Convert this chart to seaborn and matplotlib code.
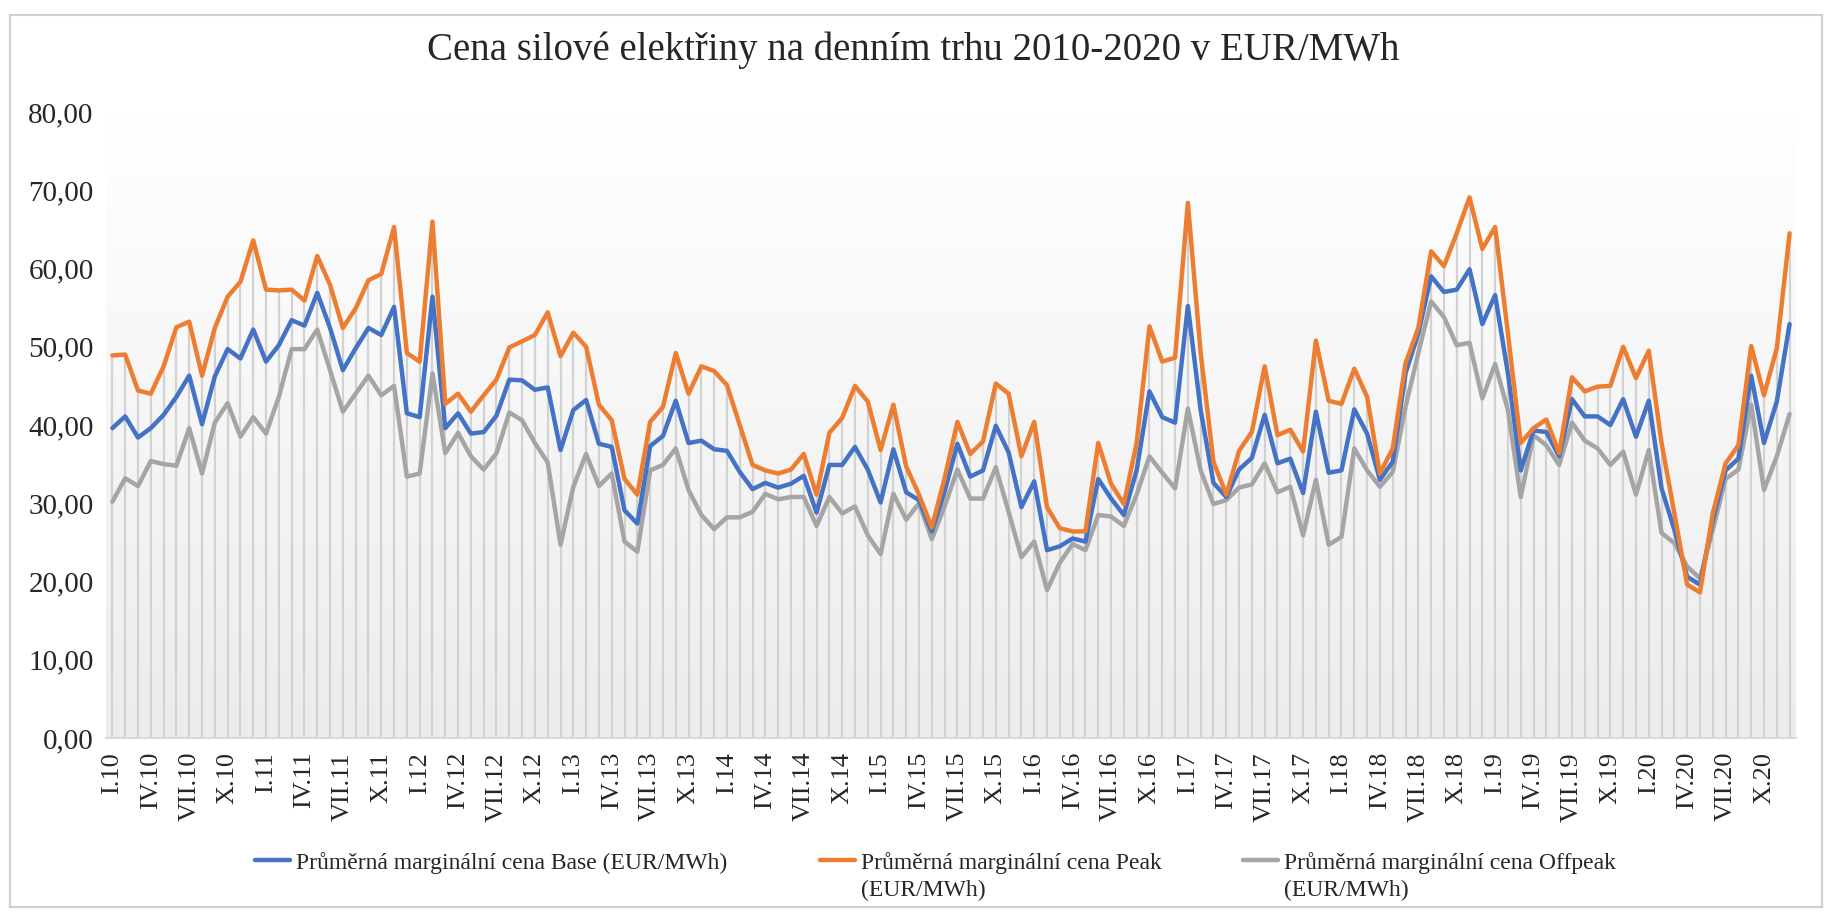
import numpy as np
import pandas as pd
import matplotlib.pyplot as plt
import seaborn as sns
from matplotlib.colors import LinearSegmentedColormap
from matplotlib.patches import Rectangle

# mesice I.10 .. XII.20
roman = ["I", "II", "III", "IV", "V", "VI", "VII", "VIII", "IX", "X", "XI", "XII"]
years = list(range(2010, 2021))
months = [f"{r}.{y % 100:02d}" for y in years for r in roman]

base = [39.6, 41.1, 38.4, 39.6, 41.3, 43.6, 46.3, 40.1, 46.2, 49.7, 48.5, 52.2,
        48.1, 50.2, 53.4, 52.7, 56.9, 52.4, 47.0, 49.8, 52.4, 51.5, 55.1,
        41.5, 41.0, 56.4, 39.6, 41.5, 38.9, 39.1, 41.2, 45.8, 45.7, 44.5, 44.8,
        36.8, 41.9, 43.2, 37.6, 37.2, 29.1, 27.4, 37.3, 38.6, 43.1,
        37.7, 38.0, 36.9, 36.7, 34.0, 31.8, 32.6, 32.0, 32.5, 33.5, 28.8, 34.9,
        34.9, 37.2, 34.3, 30.1, 36.9, 31.4, 30.4, 26.4, 31.5, 37.6,
        33.4, 34.2, 39.9, 36.5, 29.5, 32.8, 24.0, 24.5, 25.5, 25.1, 33.1, 30.6,
        28.5, 34.2, 44.3, 41.0, 40.3, 55.2, 41.9, 32.6, 30.8, 34.3, 35.8,
        41.3, 35.1, 35.7, 31.3, 41.7, 33.9, 34.2, 42.0, 38.9, 33.0, 35.3, 46.6,
        51.7, 59.0, 57.0, 57.3, 59.9, 52.9, 56.6, 46.6,
        34.2, 39.3, 39.1, 36.0, 43.3, 41.1, 41.1, 40.0, 43.3, 38.5, 43.1, 31.9,
        26.6, 20.6, 19.6, 27.9, 34.2, 35.7, 46.3, 37.7, 43.0, 52.9]

peak = [48.9, 49.0, 44.4, 44.0, 47.5, 52.5, 53.2, 46.3, 52.4, 56.4, 58.3, 63.6,
        57.3, 57.2, 57.3, 55.9, 61.6, 57.9, 52.4, 54.9, 58.5, 59.3, 65.3,
        49.2, 48.1, 66.0, 42.7, 44.0, 41.7, 43.8, 45.8, 49.9, 50.7, 51.5, 54.4,
        48.8, 51.8, 50.0, 42.6, 40.6, 33.1, 31.1, 40.4, 42.3, 49.2,
        44.0, 47.5, 46.9, 45.1, 40.0, 34.9, 34.2, 33.8, 34.3, 36.3, 31.1, 39.0,
        40.9, 45.0, 43.0, 36.8, 42.6, 34.7, 31.1, 26.9, 33.2, 40.4,
        36.3, 37.9, 45.3, 44.0, 36.0, 40.4, 29.5, 26.8, 26.4, 26.4, 37.7, 32.5,
        29.9, 37.7, 52.6, 48.1, 48.6, 68.4, 49.2, 35.3, 31.1, 36.7, 39.1,
        47.5, 38.7, 39.4, 36.6, 50.8, 43.1, 42.7, 47.2, 43.6, 33.8, 37.0, 47.9,
        52.4, 62.2, 60.3, 64.5, 69.1, 62.5, 65.3, 51.7,
        37.7, 39.6, 40.7, 36.4, 46.1, 44.3, 44.9, 45.0, 50.0, 46.0, 49.5, 37.7,
        28.7, 19.6, 18.6, 28.7, 35.1, 37.4, 50.1, 43.8, 49.8, 64.5]

offpeak = [30.2, 33.2, 32.2, 35.4, 35.0, 34.8, 39.6, 33.8, 40.3, 42.8, 38.5, 41.0,
           38.9, 43.6, 49.7, 49.7, 52.2, 47.0, 41.7, 44.0, 46.3, 43.8, 45.0,
           33.4, 33.8, 46.6, 36.4, 39.0, 36.0, 34.3, 36.4, 41.6, 40.6, 37.7, 35.2,
           24.7, 32.1, 36.3, 32.2, 33.8, 25.1, 23.8, 34.2, 34.9, 37.0,
           31.7, 28.5, 26.7, 28.2, 28.2, 28.9, 31.2, 30.5, 30.8, 30.8, 27.1, 30.8,
           28.7, 29.6, 25.9, 23.5, 31.2, 27.9, 30.0, 25.4, 29.6, 34.3,
           30.6, 30.6, 34.6, 28.9, 23.1, 25.1, 18.9, 22.4, 24.8, 24.0, 28.5, 28.3,
           27.1, 31.1, 36.0, 33.9, 31.9, 42.1, 34.2, 29.9, 30.4, 32.0, 32.4,
           35.1, 31.4, 32.1, 25.9, 33.0, 24.7, 25.7, 37.0, 34.2, 32.1, 34.0, 42.3,
           49.2, 55.8, 53.8, 50.2, 50.5, 43.4, 47.8, 41.9,
           30.8, 38.7, 37.4, 34.9, 40.3, 38.0, 37.0, 34.9, 36.6, 31.1, 36.8, 26.2,
           24.9, 21.9, 20.4, 26.6, 33.1, 34.3, 42.6, 31.7, 36.0, 41.4]

# popisky legendy: prvni radek u cary, druhy radek pod nim
labels = ["Průměrná marginální cena Base (EUR/MWh)",
          "Průměrná marginální cena Peak",
          "Průměrná marginální cena Offpeak"]
labels_2nd = ["", "(EUR/MWh)", "(EUR/MWh)"]
colors = ["#4472C4", "#ED7D31", "#A5A5A5"]

df = pd.DataFrame({"x": np.arange(len(months)), "base": base, "peak": peak, "offpeak": offpeak})

sns.set_style("white")
plt.rcParams["font.family"] = ["Liberation Serif", "DejaVu Serif"]

W, H = 1827, 914
fig = plt.figure(figsize=(W / 100, H / 100), dpi=100)
ax = fig.add_axes([106 / W, 1 - 738 / H, (1796 - 106) / W, (738 - 112) / H])

# ramecek grafu
fig.add_artist(Rectangle((10 / W, 1 - 907 / H), 1812 / W, 892 / H, transform=fig.transFigure,
                         fill=False, edgecolor="#d0d0d0", lw=1.5))

# prechod pozadi
cmap = LinearSegmentedColormap.from_list("bg", ["#ffffff", "#ececec"])
ax.imshow(np.linspace(0, 1, 256).reshape(-1, 1), extent=[-0.5, len(months) - 0.5, 0, 80],
          aspect="auto", cmap=cmap, zorder=0)

# svisle spojnice
top = df[["base", "peak", "offpeak"]].max(axis=1)
ax.vlines(df["x"], 0, top, color="#d2d2d2", lw=1.6, zorder=1)

handles = []
for col, c in zip(["base", "peak", "offpeak"], colors):
    sns.lineplot(data=df, x="x", y=col, color=c, lw=3.2, ax=ax, zorder=3 if col != "offpeak" else 2)
    handles.append(ax.get_lines()[-1])

ax.set_xlim(-0.5, len(months) - 0.5)
ax.set_ylim(0, 80)
ax.set_xlabel("")
ax.set_ylabel("")

ax.set_xticks(df["x"][::3])
ax.set_xticklabels(months[::3], rotation=90, fontsize=19, va="top")
ax.set_xticks(np.arange(-0.5, len(months), 3), minor=True)
ax.tick_params(axis="x", which="major", length=0, pad=10)
ax.tick_params(axis="x", which="minor", length=6, color="#bfbfbf", width=1.2)
ax.set_yticks(range(0, 81, 10))
ax.set_yticklabels([f"{v:.2f}".replace(".", ",") for v in range(0, 81, 10)], fontsize=21)
ax.tick_params(axis="y", length=0, pad=9)

for s in ["top", "right", "left"]:
    ax.spines[s].set_visible(False)
ax.spines["bottom"].set_color("#d9d9d9")
ax.spines["bottom"].set_linewidth(1.5)

fig.text(0.5, 1 - 50 / H, "Cena silové elektřiny na denním trhu 2010-2020 v EUR/MWh",
         ha="center", va="center", fontsize=28)

# legenda - tri samostatne polozky
legs = []
for h, lab, xpos in zip(handles, labels, [243, 808, 1231]):
    leg = fig.legend([h], [lab], loc="upper left", bbox_to_anchor=(xpos / W, 1 - 840 / H),
                     frameon=False, fontsize=17, handlelength=1.5, handletextpad=0.25,
                     borderpad=0, labelspacing=0)
    legs.append(leg)

fig.canvas.draw()
inv = fig.transFigure.inverted()
for leg, second in zip(legs, labels_2nd):
    if not second:
        continue
    bb = leg.get_texts()[0].get_window_extent()
    x0, y0 = inv.transform((bb.x0, bb.y0))
    fig.text(x0, y0 - 6 / H, second, ha="left", va="top", fontsize=17)

fig.savefig("out.png", dpi=100, facecolor="white")
